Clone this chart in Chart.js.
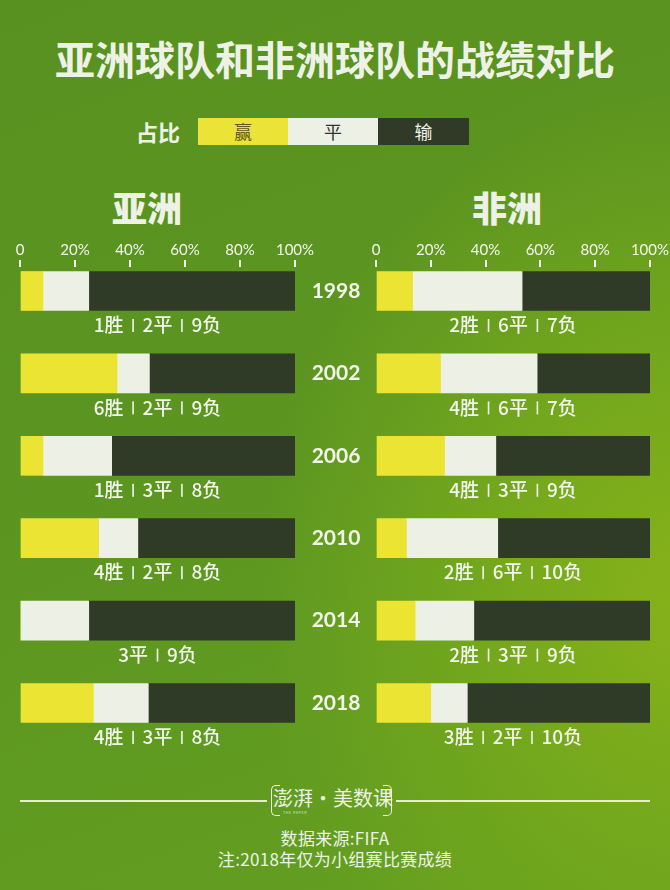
<!DOCTYPE html>
<html><head><meta charset="utf-8">
<script src="https://cdn.jsdelivr.net/npm/chart.js@4/dist/chart.umd.min.js"></script>
<style>
html,body{margin:0;padding:0;}
body{width:670px;height:890px;position:relative;overflow:hidden;
 background:radial-gradient(ellipse 420px 520px at 680px 600px,#86b21a 0%,#76a91c 40%,rgba(95,154,32,0) 100%),linear-gradient(160deg,#58911f 0%,#5c9621 50%,#64a020 100%);
 font-family:"Noto Sans CJK SC","Noto Sans",sans-serif;color:#eef2e6;}
.abs{position:absolute;}
#title{left:0;width:670px;top:31px;text-align:center;font-size:40px;font-weight:700;line-height:54px;color:#eef2e6;}
#lgLabel{left:136px;top:117px;font-size:22px;font-weight:700;line-height:28px;}
.lg{top:118px;height:27px;width:90px;text-align:center;font-size:18px;line-height:27px;}
.hdr{top:185px;font-size:35px;font-weight:900;line-height:44px;width:140px;text-align:center;}
.line{top:800px;height:2px;background:#e4eed6;}
.brk{top:785px;width:8px;height:29px;border:1.5px solid #eef2e6;}
#logoTxt{left:272px;top:782px;width:122px;text-align:center;font-size:20px;line-height:32px;}
#paperSub{left:283px;top:811px;font-size:6px;line-height:6px;letter-spacing:1px;transform:scale(0.6);transform-origin:left top;color:#dfe8d2;}
.src{left:0;width:670px;text-align:center;font-size:17px;line-height:22px;letter-spacing:0.3px;}
canvas{position:absolute;}
</style></head>
<body>
<div id="title" class="abs">亚洲球队和非洲球队的战绩对比</div>
<div id="lgLabel" class="abs">占比</div>
<div class="abs lg" style="left:198px;background:#ebe335;color:#5b5a1c;">赢</div>
<div class="abs lg" style="left:288px;background:#edf1e5;color:#333;">平</div>
<div class="abs lg" style="left:378px;width:91px;background:#303a27;color:#eef2e6;">输</div>
<div class="abs hdr" style="left:77px;">亚洲</div>
<div class="abs hdr" style="left:437px;">非洲</div>
<div class="abs" style="left:0;top:230px;width:670px;height:540px;"><canvas id="asia" width="670" height="540" style="left:0;top:0;"></canvas></div>
<div class="abs" style="left:335px;top:230px;width:335px;height:540px;"><canvas id="africa" width="335" height="540" style="left:0;top:0;"></canvas></div>
<div class="abs line" style="left:20px;width:247px;"></div>
<div class="abs line" style="left:396px;width:254px;"></div>
<div class="abs brk" style="left:271px;border-right:none;border-radius:5px 0 0 5px;"></div>
<div class="abs brk" style="left:383px;border-left:none;border-radius:0 5px 5px 0;"></div>
<div id="logoTxt" class="abs">澎湃·美数课</div>
<div id="paperSub" class="abs">THE PAPER</div>
<div class="abs src" style="top:827px;">数据来源:FIFA</div>
<div class="abs src" style="top:848px;">注:2018年仅为小组赛比赛成绩</div>
<script>
const years = ['1998','2002','2006','2010','2014','2018'];
const asiaWins   = [1,6,1,4,0,4];
const asiaDraws  = [2,2,3,2,3,3];
const asiaLosses = [9,9,8,8,9,8];
const africaWins   = [2,4,4,2,2,3];
const africaDraws  = [6,6,3,6,3,2];
const africaLosses = [7,7,9,10,9,10];
const tickValues = [0,20,40,60,80,100];

const COL_WIN = '#ece432', COL_DRAW = '#edf1e5', COL_LOSS = '#2f3a27';

function pct(arr, w, d, l){ return arr.map((v,i)=>({x: v/(w[i]+d[i]+l[i])*100, y:i})); }

const rowLabels = {
  id:'rowLabels',
  afterDatasetsDraw(chart, args, opts){
    const {ctx, chartArea, scales:{y}} = chart;
    const cx = (chartArea.left+chartArea.right)/2;
    ctx.save();
    ctx.fillStyle = '#f2f5ec';
    ctx.textBaseline = 'middle';
    ctx.textAlign = 'left';
    ctx.font = '500 19px "Noto Sans CJK SC"';
    opts.w.forEach((w,i)=>{
      const yc = y.getPixelForValue(i) + 34;
      const parts = [];
      if (w>0) parts.push(w+'胜');
      parts.push(opts.d[i]+'平');
      parts.push(opts.l[i]+'负');
      const sep = 19;
      const widths = parts.map(p=>ctx.measureText(p).width);
      const total = widths.reduce((a,b)=>a+b,0) + sep*(parts.length-1);
      let x = cx - total/2;
      parts.forEach((p,k)=>{
        ctx.fillText(p, x, yc);
        x += widths[k];
        if (k<parts.length-1){ ctx.fillRect(x+sep/2-0.8, yc-6, 1.6, 13); x += sep; }
      });
    });
    if (opts.years){
      ctx.font = 'bold 21px Lato';
      ctx.textAlign = 'center';
      opts.years.forEach((yr,i)=>{ ctx.fillText(yr, opts.yearX, y.getPixelForValue(i)); });
    }
    ctx.restore();
  }
};

function makeChart(id, w, d, l, padL, padR, withYears){
  const T = 37, rowH = 82.4, firstOff = 24, H = 540;
  const yMin = -firstOff/rowH;
  const yMax = yMin + (H - T)/rowH;
  return new Chart(document.getElementById(id), {
    type:'bar',
    data:{ datasets:[
      {label:'赢', data:pct(w,w,d,l), backgroundColor:COL_WIN},
      {label:'平', data:pct(d,w,d,l), backgroundColor:COL_DRAW},
      {label:'输', data:pct(l,w,d,l), backgroundColor:COL_LOSS}
    ]},
    options:{
      indexAxis:'y', responsive:false, animation:false,
      barThickness:39, borderWidth:0,
      layout:{padding:{left:padL, right:padR, top:0, bottom:0}},
      plugins:{legend:{display:false}, tooltip:{enabled:false},
        rowLabels:{w:w, d:d, l:l, years: withYears ? years : null, yearX:336}},
      scales:{
        x:{type:'linear', position:'top', stacked:true, min:0, max:100,
           afterFit(s){ s.height = T; },
           afterBuildTicks(s){ s.ticks = tickValues.map(v=>({value:v})); },
           ticks:{color:'#f4f6ee', font:{family:'Lato', size:15}, padding:1,
                  callback:v=> v===0 ? '0' : v+'%', maxRotation:0, autoSkip:false},
           grid:{drawOnChartArea:false, drawTicks:true, tickLength:7, color:'#f4f6ee', lineWidth:2},
           border:{display:false}},
        y:{type:'linear', reverse:true, stacked:true, offset:false, grid:{offset:false},
           min:yMin, max:yMax, display:false}
      }
    },
    plugins:[rowLabels]
  });
}
makeChart('asia', asiaWins, asiaDraws, asiaLosses, 20, 375, true);
makeChart('africa', africaWins, africaDraws, africaLosses, 41, 19, false);
</script>
</body></html>
